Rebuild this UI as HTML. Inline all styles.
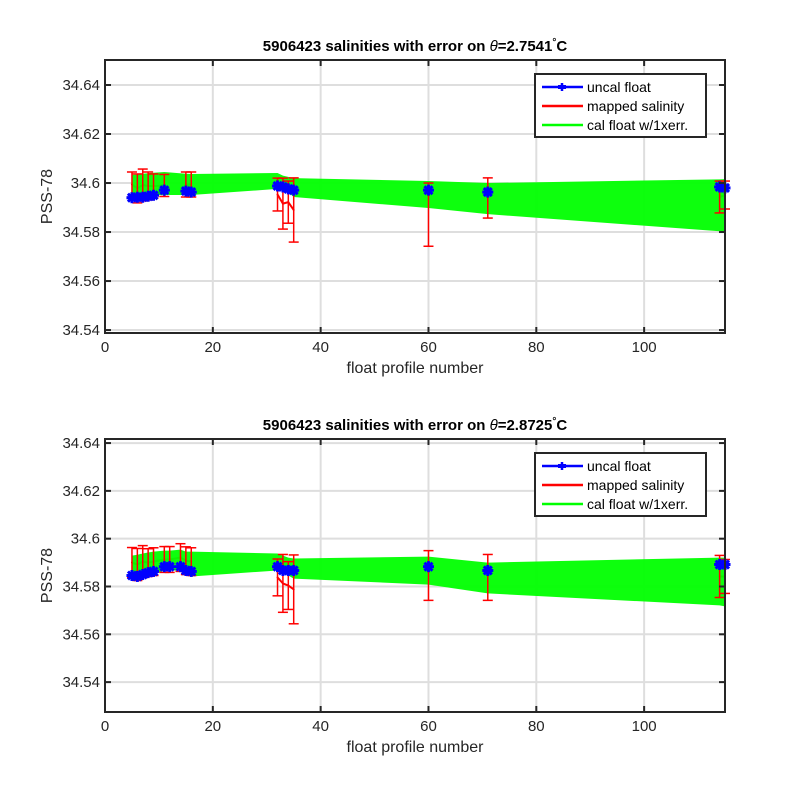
<!DOCTYPE html>
<html><head><meta charset="utf-8"><style>
body{margin:0;background:#fff}
svg{display:block;font-family:"Liberation Sans",Arial,sans-serif}
</style></head><body>
<svg id="chart" width="800" height="800" viewBox="0 0 800 800" xmlns="http://www.w3.org/2000/svg"></svg>
<script>
// ----- Top panel data (theta = 2.7541 C) -----
const topProfiles = [5,6,7,8,9,11,15,16,32,33,34,35,60,71,114,115];
const topUncal = [34.5940,34.5942,34.5942,34.5946,34.5950,34.5971,34.5967,34.5963,34.5988,34.5984,34.5976,34.5971,34.5971,34.5963,34.5984,34.5980];
const topMapped = [34.5994,34.5978,34.5992,34.5988,34.5988,34.5990,34.5994,34.5994,34.5953,34.5916,34.5922,34.5890,34.5871,34.5939,34.5943,34.5951];
const topMappedErr = [0.0051,0.0059,0.0065,0.0057,0.0049,0.0045,0.0051,0.0051,0.0067,0.0104,0.0086,0.0131,0.0129,0.0082,0.0065,0.0057];
const topCalHi = [34.6033,34.6035,34.6038,34.6040,34.6042,34.6045,34.6038,34.6037,34.6041,34.6030,34.6025,34.6020,34.6008,34.6000,34.6015,34.6016];
const topCalLo = [34.5943,34.5944,34.5946,34.5948,34.5950,34.5951,34.5951,34.5951,34.5976,34.5968,34.5962,34.5943,34.5898,34.5873,34.5803,34.5800];
// ----- Bottom panel data (theta = 2.8725 C) -----
const botProfiles = [5,6,7,8,9,11,12,14,15,16,32,33,34,35,60,71,114,115];
const botUncal = [34.5846,34.5842,34.5850,34.5858,34.5863,34.5883,34.5883,34.5883,34.5867,34.5863,34.5883,34.5867,34.5867,34.5867,34.5883,34.5867,34.5892,34.5892];
const botMapped = [34.5900,34.5892,34.5904,34.5900,34.5904,34.5913,34.5913,34.5921,34.5908,34.5904,34.5838,34.5813,34.5804,34.5788,34.5846,34.5838,34.5842,34.5842];
const botMappedErr = [0.0063,0.0067,0.0067,0.0058,0.0058,0.0054,0.0054,0.0058,0.0058,0.0058,0.0077,0.0121,0.0100,0.0144,0.0104,0.0096,0.0088,0.0071];
const botCalHi = [34.5929,34.5933,34.5938,34.5942,34.5946,34.5950,34.5950,34.5954,34.5946,34.5946,34.5938,34.5929,34.5921,34.5917,34.5925,34.5900,34.5921,34.5921];
const botCalLo = [34.5838,34.5833,34.5838,34.5846,34.5850,34.5867,34.5867,34.5867,34.5850,34.5842,34.5867,34.5858,34.5846,34.5833,34.5808,34.5771,34.5721,34.5717];
const xTicks = [0,20,40,60,80,100];
const yTicks = [34.54,34.56,34.58,34.60,34.62,34.64];
const yTickLabels = ["34.54","34.56","34.58","34.6","34.62","34.64"];
const titles = ["2.7541","2.8725"];

const NS="http://www.w3.org/2000/svg";
const svg=document.getElementById('chart');
function mk(tag,attrs,parent){const e=document.createElementNS(NS,tag);for(const k in attrs)e.setAttribute(k,attrs[k]);(parent||svg).appendChild(e);return e;}

function segLines(g,prof,vals,xs,ys,color,w,name){
  for(let i=0;i<prof.length-1;i++){
    if(prof[i+1]-prof[i]>3) continue;
    const l=mk('line',{x1:xs(prof[i]),y1:ys(vals[i]),x2:xs(prof[i+1]),y2:ys(vals[i+1]),stroke:color,'stroke-width':w,'stroke-linecap':'round'},g);
    
    
  }
}

function panel(idx,top,ymin,ymax,prof,uncal,mapped,merr,hi,lo){
  const L=105,R=725,T=top,B=top+273;
  const xs=v=>L+(v-0)/(115-0)*(R-L);
  const ys=v=>B-(v-ymin)/(ymax-ymin)*(B-T);
  const g=mk('g',{});
  
  
  mk('rect',{x:L,y:T,width:R-L,height:B-T,fill:'#fff'},g);
  xTicks.forEach(t=>{const l=mk('line',{x1:xs(t),x2:xs(t),y1:T,y2:B,stroke:'#dedede','stroke-width':2},g);
    });
  yTicks.forEach(t=>{const l=mk('line',{x1:L,x2:R,y1:ys(t),y2:ys(t),stroke:'#dedede','stroke-width':2},g);
    });
  segLines(g,prof,mapped,xs,ys,'#ff0000',2,'mapped-salinity-line');
  segLines(g,prof,uncal,xs,ys,'#0000ff',2.5,'uncal-float-line');
  const pts=prof.map((p,i)=>xs(p)+','+ys(hi[i])).concat(prof.slice().reverse().map((p,j)=>{const i=prof.length-1-j;return xs(p)+','+ys(lo[i]);}));
  const band=mk('polygon',{points:pts.join(' '),fill:'#00ff00','fill-opacity':0.95},g);
  
  prof.forEach((p,i)=>{
    const x=xs(p),y1=ys(mapped[i]+merr[i]),y2=ys(mapped[i]-merr[i]);
    const eb=mk('g',{stroke:'#ff0000','stroke-width':1.5},g);
    
    mk('line',{x1:x,x2:x,y1:y1,y2:y2},eb);
    mk('line',{x1:x-5,x2:x+5,y1:y1,y2:y1},eb);
    mk('line',{x1:x-5,x2:x+5,y1:y2,y2:y2},eb);
  });
  prof.forEach((p,i)=>{
    const x=xs(p),y=ys(uncal[i]);
    const m=mk('g',{stroke:'#0000ff','stroke-width':3},g);
    
    mk('line',{x1:x-5.5,x2:x+5.5,y1:y,y2:y},m);
    mk('line',{x1:x,x2:x,y1:y-5.5,y2:y+5.5},m);
    mk('line',{x1:x-4,x2:x+4,y1:y-4,y2:y+4},m);
    mk('line',{x1:x-4,x2:x+4,y1:y+4,y2:y-4},m);
  });
  const bx=mk('rect',{x:L,y:T,width:R-L,height:B-T,fill:'none',stroke:'#262626','stroke-width':2},g);
  
  xTicks.forEach(t=>{
    mk('line',{x1:xs(t),x2:xs(t),y1:B,y2:B-6,stroke:'#262626','stroke-width':2},g);
    mk('line',{x1:xs(t),x2:xs(t),y1:T,y2:T+6,stroke:'#262626','stroke-width':2},g);
    const tx=mk('text',{x:xs(t),y:B+19,'font-size':15,'text-anchor':'middle',fill:'#262626'},g);
    tx.textContent=t;
  });
  yTicks.forEach((t,i)=>{
    mk('line',{x1:L,x2:L+6,y1:ys(t),y2:ys(t),stroke:'#262626','stroke-width':2},g);
    mk('line',{x1:R,x2:R-6,y1:ys(t),y2:ys(t),stroke:'#262626','stroke-width':2},g);
    const tx=mk('text',{x:L-5,y:ys(t)+5,'font-size':15,'text-anchor':'end',fill:'#262626'},g);
    tx.textContent=yTickLabels[i];
  });
  const xl=mk('text',{x:(L+R)/2,y:B+40,'font-size':16,'text-anchor':'middle',fill:'#262626'},g);
  xl.textContent='float profile number';
  const yl=mk('text',{x:0,y:0,'font-size':16,'text-anchor':'middle',fill:'#262626',transform:'translate(52,'+((T+B)/2)+') rotate(-90)'},g);
  yl.textContent='PSS-78';
  const ti=mk('text',{x:415,y:T-9,'font-size':15,'font-weight':'bold','text-anchor':'middle',fill:'#000'},g);
  
  ti.innerHTML='5906423 salinities with error on <tspan font-style="italic" font-weight="normal">θ</tspan>='+titles[idx]+'<tspan dy="-6" font-size="10">°</tspan><tspan dy="6">C</tspan>';
  const lg=mk('g',{},g);
  
  const ly=T+14;
  mk('rect',{x:535,y:ly,width:171,height:63,fill:'#fff',stroke:'#262626','stroke-width':2},lg);
  const items=[['uncal float','#0000ff'],['mapped salinity','#ff0000'],['cal float w/1xerr.','#00ff00']];
  items.forEach((it,k)=>{
    const yy=ly+13+k*19;
    const e=mk('g',{},lg);
    
    mk('line',{x1:542,x2:583,y1:yy,y2:yy,stroke:it[1],'stroke-width':2.5},e);
    if(k===0){mk('line',{x1:562,x2:562,y1:yy-4,y2:yy+4,stroke:'#0000ff','stroke-width':2.5},e);
      mk('line',{x1:558,x2:566,y1:yy,y2:yy,stroke:'#0000ff','stroke-width':4},e);}
    const t=mk('text',{x:587,y:yy+5,'font-size':14,fill:'#000'},e);t.textContent=it[0];
  });
}
panel(0,60,34.5388,34.6502,topProfiles,topUncal,topMapped,topMappedErr,topCalHi,topCalLo);
panel(1,439,34.5275,34.6417,botProfiles,botUncal,botMapped,botMappedErr,botCalHi,botCalLo);
</script>
</body></html>
